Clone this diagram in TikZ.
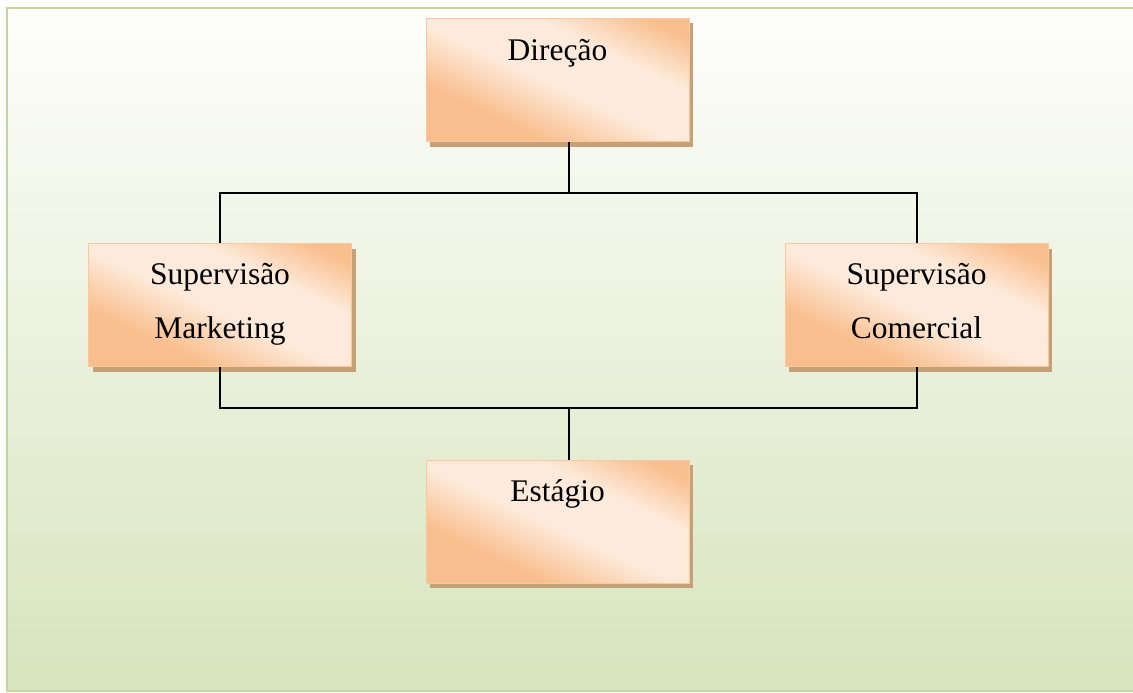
\documentclass[tikz,border=0pt]{standalone}
\usepackage{fontspec}
\setmainfont{Liberation Serif}
\usetikzlibrary{shadows}

\definecolor{frameGreen}{RGB}{195,214,155}
\definecolor{bgTop}{RGB}{254,254,252}
\definecolor{bgBottom}{RGB}{215,228,189}
\definecolor{boxOrange}{RGB}{249,190,141}
\definecolor{boxLight}{RGB}{253,234,218}
\definecolor{boxEdge}{RGB}{250,200,158}
\definecolor{boxShadow}{RGB}{198,160,118}

% diagonal orange / peach / orange fill of the boxes
\pgfdeclarehorizontalshading{boxshade}{100bp}{%
  color(0bp)=(boxOrange); color(32bp)=(boxOrange);
  color(48bp)=(boxLight); color(64bp)=(boxLight);
  color(78bp)=(boxOrange); color(100bp)=(boxOrange)}

\begin{document}
\begin{tikzpicture}[x=1pt,y=-1pt,
  orgbox/.style={rectangle, minimum width=263pt, minimum height=123pt,
    inner sep=0pt, draw=boxEdge, line width=1pt,
    shading=boxshade, shading angle=65,
    drop shadow={shadow xshift=4pt, shadow yshift=-5pt,
      fill=boxShadow, opacity=1}},
  lbl/.style={anchor=base, inner sep=0pt,
    font=\fontsize{31.5}{38}\selectfont},
  conn/.style={draw=black, line width=2pt}]

  % page area and green framed background
  \useasboundingbox (0,0) rectangle (1133,693);
  \shade[top color=bgTop, bottom color=bgBottom] (7,8) rectangle (1145,691);
  \draw[frameGreen, line width=2pt] (7,8) rectangle (1145,691);

  % boxes
  \node[orgbox] (dir) at (557.5,80) {};
  \node[orgbox] (mkt) at (220,305) {};
  \node[orgbox] (com) at (916.5,305) {};
  \node[orgbox] (est) at (557.5,521.5) {};

  % box texts
  \node[lbl] (dirT) at ([yshift=-43pt]dir.north) {Direção};
  \node[lbl] (mktA) at ([yshift=-41pt]mkt.north) {Supervisão};
  \node[lbl] (mktB) at ([yshift=-95pt]mkt.north) {Marketing};
  \node[lbl] (comA) at ([yshift=-41pt]com.north) {Supervisão};
  \node[lbl] (comB) at ([yshift=-95pt]com.north) {Comercial};
  \node[lbl] (estT) at ([yshift=-42pt]est.north) {Estágio};

  % junctions of the connectors
  \coordinate (j1) at (569,193);
  \coordinate (j2) at (569,408);

  % connectors
  \draw[conn] (j1 |- dir.south) -- (j1);
  \draw[conn] (mkt.north) |- (j1) -| (com.north);
  \draw[conn] (mkt.south) |- (j2) -| (com.south);
  \draw[conn] (j2) -- (j2 |- est.north);
\end{tikzpicture}
\end{document}
